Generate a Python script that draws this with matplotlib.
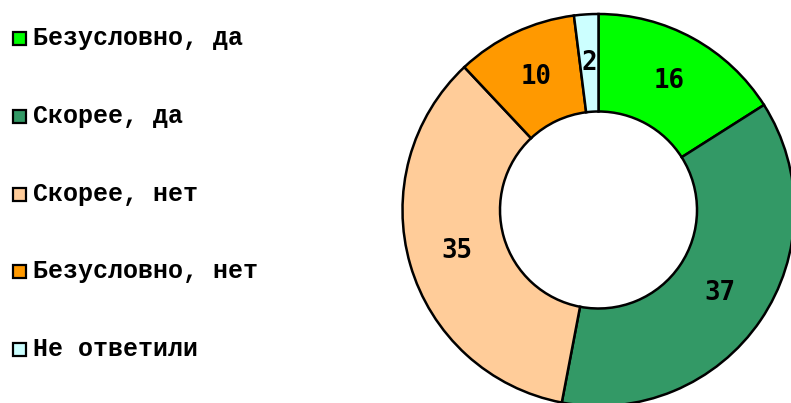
import matplotlib
matplotlib.use("Agg")
import matplotlib.pyplot as plt
from matplotlib.patches import Rectangle

categories = ["Безусловно, да", "Скорее, да", "Скорее, нет", "Безусловно, нет", "Не ответили"]
values = [16, 37, 35, 10, 2]
colors = ["#00FF00", "#339966", "#FFCC99", "#FF9900", "#CCFFFF"]

W, H = 791, 403
fig = plt.figure(figsize=(W / 100, H / 100), dpi=100)
ax = fig.add_axes([0, 0, 1, 1])

cx, cy = 598.5, H - 210
r_out, r_in = 196, 98.5

wedges, texts = ax.pie(
    values, colors=colors, startangle=90, counterclock=False,
    center=(cx, cy), radius=r_out, frame=True,
    labels=[str(v) for v in values], labeldistance=(r_out + r_in) / 2 / r_out,
    wedgeprops=dict(width=r_out - r_in, edgecolor="black", linewidth=1.8),
    textprops=dict(fontfamily="DejaVu Sans Mono", fontweight="bold", fontsize=18.5),
)
for t in texts:
    t.set_horizontalalignment("center")
    t.set_verticalalignment("center")
ax.set_xlim(0, W)
ax.set_ylim(0, H)
ax.set_aspect("equal")
ax.axis("off")

# legend column
legend_y = [38, 116, 194, 271, 349]
for name, col, y in zip(categories, colors, legend_y):
    ax.add_patch(Rectangle((13, H - y - 6.5), 13, 13, facecolor=col,
                           edgecolor="black", linewidth=1.6))
    ax.text(33, H - y, name, fontfamily="Liberation Mono", fontweight="bold",
            fontsize=18, ha="left", va="center")

fig.savefig("out.png", dpi=100)
